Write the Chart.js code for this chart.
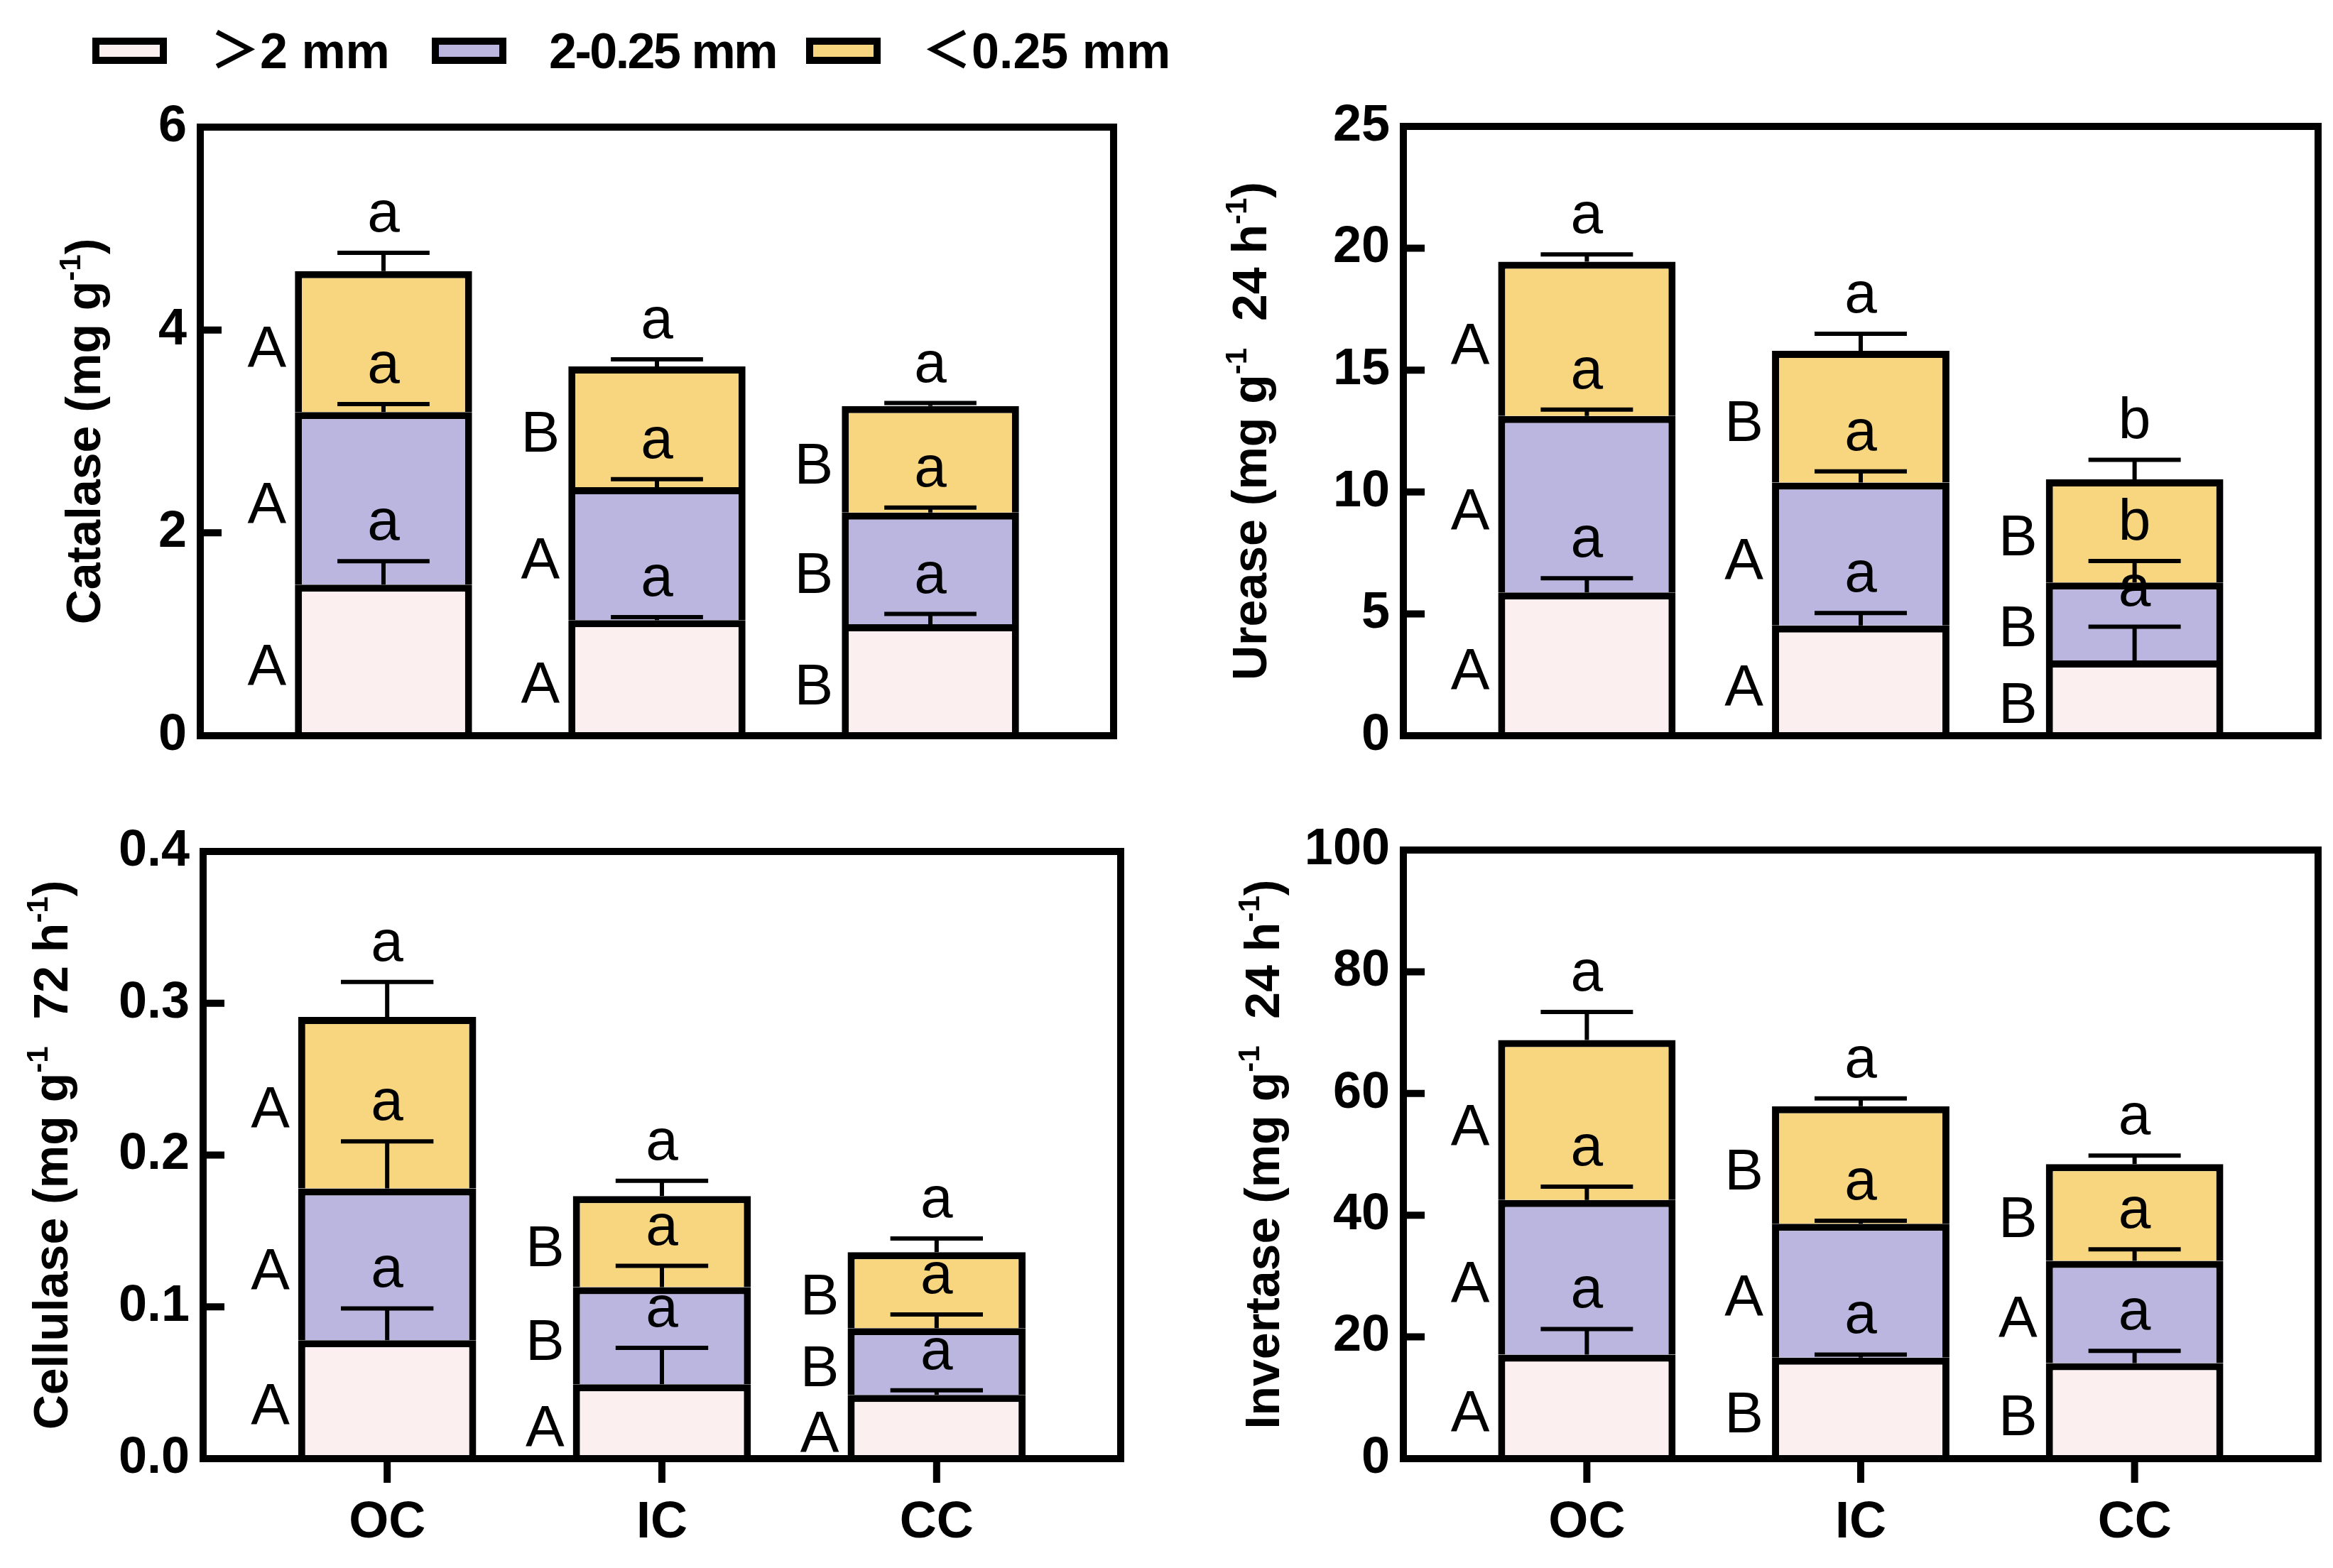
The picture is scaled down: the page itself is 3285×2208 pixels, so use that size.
<!DOCTYPE html>
<html>
<head>
<meta charset="utf-8">
<script src="https://cdn.jsdelivr.net/npm/chart.js@4.4.1/dist/chart.umd.min.js"></script>
<style>
  body { margin: 0; background: #fff; width: 3285px; height: 2208px; position: relative; overflow: hidden;
         font-family: "Liberation Sans", Arial, "Noto Sans CJK SC", sans-serif; }
  canvas { position: absolute; }
  .lg-box { position: absolute; top: 53px; width: 85px; height: 17px; border: 10px solid #000; }
  .lg-text { position: absolute; top: 72px; transform: translateY(-50%); font-weight: bold; font-size: 70px;
             line-height: 1; white-space: nowrap; color: #000; }
</style>
</head>
<body>
<div id="legend"></div>
<canvas id="catalase"></canvas>
<canvas id="urease"></canvas>
<canvas id="cellulase"></canvas>
<canvas id="invertase"></canvas>
<script>
// ---------- data ----------
const categories = ["OC", "IC", "CC"];
const fractions = ["＞2 mm", "2-0.25 mm", "＜0.25 mm"];
const fractionColors = ["#FBF0EF", "#BBB6DF", "#F7D67F"];

// Catalase (mg g-1), one value per category
const catalaseLarge = [1.49, 1.14, 1.10];
const catalaseMid = [1.70, 1.31, 1.10];
const catalaseSmall = [1.39, 1.19, 1.05];
const catalaseErrLarge = [0.23, 0.03, 0.10];
const catalaseErrMid = [0.08, 0.08, 0.05];
const catalaseErrSmall = [0.18, 0.07, 0.03];
const catalaseUpperLarge = ["A", "A", "B"];
const catalaseUpperMid = ["A", "A", "B"];
const catalaseUpperSmall = ["A", "B", "B"];
const catalaseLowerLarge = ["a", "a", "a"];
const catalaseLowerMid = ["a", "a", "a"];
const catalaseLowerSmall = ["a", "a", "a"];
const catalaseTicks = [0, 6, 2];

// Urease (mg g-1 24 h-1)
const ureaseLarge = [5.88, 4.52, 3.09];
const ureaseMid = [7.24, 5.87, 3.20];
const ureaseSmall = [6.33, 5.40, 4.23];
const ureaseErrLarge = [0.58, 0.51, 1.38];
const ureaseErrMid = [0.26, 0.46, 0.88];
const ureaseErrSmall = [0.30, 0.70, 0.80];
const ureaseUpperLarge = ["A", "A", "B"];
const ureaseUpperMid = ["A", "A", "B"];
const ureaseUpperSmall = ["A", "B", "B"];
const ureaseLowerLarge = ["a", "a", "a"];
const ureaseLowerMid = ["a", "a", "b"];
const ureaseLowerSmall = ["a", "a", "b"];
const ureaseTicks = [0, 25, 5];

// Cellulase (mg g-1 72 h-1)
const cellulaseLarge = [0.078, 0.049, 0.042];
const cellulaseMid = [0.100, 0.064, 0.044];
const cellulaseSmall = [0.113, 0.060, 0.050];
const cellulaseErrLarge = [0.021, 0.024, 0.003];
const cellulaseErrMid = [0.031, 0.014, 0.009];
const cellulaseErrSmall = [0.023, 0.010, 0.009];
const cellulaseUpperLarge = ["A", "A", "A"];
const cellulaseUpperMid = ["A", "B", "B"];
const cellulaseUpperSmall = ["A", "B", "B"];
const cellulaseLowerLarge = ["a", "a", "a"];
const cellulaseLowerMid = ["a", "a", "a"];
const cellulaseLowerSmall = ["a", "a", "a"];
const cellulaseTicks = [0, 0.4, 0.1];

// Invertase (mg g-1 24 h-1)
const invertaseLarge = [17.1, 16.6, 15.7];
const invertaseMid = [25.4, 22.0, 16.8];
const invertaseSmall = [26.3, 19.3, 15.9];
const invertaseErrLarge = [4.2, 0.5, 2.0];
const invertaseErrMid = [2.2, 0.5, 1.9];
const invertaseErrSmall = [4.6, 1.3, 1.4];
const invertaseUpperLarge = ["A", "B", "B"];
const invertaseUpperMid = ["A", "A", "A"];
const invertaseUpperSmall = ["A", "B", "B"];
const invertaseLowerLarge = ["a", "a", "a"];
const invertaseLowerMid = ["a", "a", "a"];
const invertaseLowerSmall = ["a", "a", "a"];
const invertaseTicks = [0, 100, 20];

// axis titles: [text, isSuperscript]
const catalaseTitle = [["Catalase (mg g", false], ["-1", true], [")", false]];
const ureaseTitle = [["Urease (mg g", false], ["-1", true], ["  24 h", false], ["-1", true], [")", false]];
const cellulaseTitle = [["Cellulase (mg g", false], ["-1", true], ["  72 h", false], ["-1", true], [")", false]];
const invertaseTitle = [["Invertase (mg g", false], ["-1", true], ["  24 h", false], ["-1", true], [")", false]];

// ---------- legend ----------
const legendBoxX = [130, 608, 1135];
const legendTextX = [296, 773, 1298];
const legendSpacing = ["0px", "-2.5px", "0px"];
const legend = document.getElementById("legend");
fractions.forEach((name, i) => {
  const box = document.createElement("div");
  box.className = "lg-box";
  box.style.left = legendBoxX[i] + "px";
  box.style.background = fractionColors[i];
  legend.appendChild(box);
  const txt = document.createElement("span");
  txt.className = "lg-text";
  txt.style.left = legendTextX[i] + "px";
  txt.style.letterSpacing = legendSpacing[i];
  txt.textContent = name;
  legend.appendChild(txt);
});

// ---------- drawing helpers ----------
const FONT = '"Liberation Sans", Arial, sans-serif';

const decorPlugin = {
  id: "decor",
  afterDatasetsDraw(chart) {
    const cfg = chart.options.plugins.decor;
    const ctx = chart.ctx;
    const ys = chart.scales.y;
    const sets = chart.data.datasets;
    ctx.save();
    sets.forEach((ds, d) => {
      chart.getDatasetMeta(d).data.forEach((bar, i) => {
        let cum = 0;
        for (let k = 0; k <= d; k++) cum += sets[k].data[i].y;
        const seg = ds.data[i].y;
        const yTop = ys.getPixelForValue(cum);
        const yCap = ys.getPixelForValue(cum + cfg.errors[d][i]);
        const half = bar.width * 0.26;

        // error bar (upper only)
        ctx.strokeStyle = "#000";
        ctx.lineWidth = 6;
        ctx.beginPath();
        ctx.moveTo(bar.x, yTop);
        ctx.lineTo(bar.x, yCap);
        ctx.moveTo(bar.x - half, yCap);
        ctx.lineTo(bar.x + half, yCap);
        ctx.stroke();

        // letters
        ctx.fillStyle = "#000";
        ctx.font = "82px " + FONT;
        ctx.textAlign = "center";
        ctx.textBaseline = "alphabetic";
        ctx.fillText(cfg.lower[d][i], bar.x, yCap - 30);
        ctx.textAlign = "right";
        ctx.textBaseline = "middle";
        ctx.fillText(cfg.upper[d][i], bar.x - bar.width / 2 - 12, ys.getPixelForValue(cum - seg / 2) + 12);
      });
    });
    ctx.restore();
  },
  afterDraw(chart) {
    const cfg = chart.options.plugins.decor;
    const ctx = chart.ctx;
    const a = chart.chartArea;
    ctx.save();
    ctx.strokeStyle = "#000";
    ctx.lineWidth = 10;
    ctx.strokeRect(a.left, a.top, a.right - a.left, a.bottom - a.top);

    // inward y ticks, outward x ticks
    const ys = chart.scales.y;
    ctx.beginPath();
    ys.ticks.forEach(t => {
      const y = ys.getPixelForValue(t.value);
      ctx.moveTo(a.left, y);
      ctx.lineTo(a.left + 30, y);
    });
    if (cfg.showX) {
      const xs = chart.scales.x;
      xs.ticks.forEach(t => {
        const x = xs.getPixelForValue(t.value);
        ctx.moveTo(x, a.bottom);
        ctx.lineTo(x, a.bottom + 34);
      });
    }
    ctx.stroke();

    // y title with superscripts
    ctx.translate(a.left - cfg.titleOffset, (a.top + a.bottom) / 2);
    ctx.rotate(-Math.PI / 2);
    const big = "bold 68px " + FONT;
    const small = "bold 42px " + FONT;
    let total = 0;
    cfg.title.forEach(([text, sup]) => {
      ctx.font = sup ? small : big;
      total += ctx.measureText(text).width;
    });
    let x = -total / 2;
    ctx.fillStyle = "#000";
    ctx.textAlign = "left";
    ctx.textBaseline = "alphabetic";
    cfg.title.forEach(([text, sup]) => {
      ctx.font = sup ? small : big;
      ctx.fillText(text, x, sup ? -28 : 0);
      x += ctx.measureText(text).width;
    });
    ctx.restore();
  }
};

const PAD_TOP = 80;

const makePanel = (id, box, values, errors, upper, lower, ticks, title, decimals) => {
  const canvas = document.getElementById(id);
  const padBottom = box.showX ? 150 : 80;
  const w = box.w + 340;
  const h = box.h + PAD_TOP + padBottom;
  canvas.style.left = (box.left - 300) + "px";
  canvas.style.top = (box.top - PAD_TOP) + "px";
  canvas.style.width = w + "px";
  canvas.style.height = h + "px";
  canvas.width = w;
  canvas.height = h;

  new Chart(canvas, {
    type: "bar",
    data: {
      datasets: values.map((vals, d) => ({
        label: fractions[d],
        data: vals.map((v, i) => ({ x: i, y: v })),
        backgroundColor: fractionColors[d],
        borderColor: "#000",
        borderWidth: 10,
        categoryPercentage: 1,
        barPercentage: 0.648
      }))
    },
    options: {
      responsive: false,
      animation: false,
      layout: { padding: { left: 0, right: 40, top: PAD_TOP, bottom: 0 } },
      plugins: {
        legend: { display: false },
        tooltip: { enabled: false },
        decor: { errors, upper, lower, title, showX: box.showX, titleOffset: box.titleOffset }
      },
      scales: {
        x: {
          type: "linear",
          offset: false,
          bounds: "data",
          grace: 0,
          min: -0.67,
          max: 2.67,
          stacked: true,
          grid: { display: false, drawTicks: false, offset: false },
          border: { display: false },
          afterBuildTicks: s => { s.ticks = categories.map((c, i) => ({ value: i })); },
          afterFit: s => { s.height = padBottom; },
          ticks: {
            display: box.showX,
            autoSkip: false,
            maxRotation: 0,
            padding: 48,
            color: "#000",
            font: { family: FONT, size: 72, weight: "bold" },
            callback: v => categories[v]
          }
        },
        y: {
          min: ticks[0],
          max: ticks[1],
          stacked: true,
          grid: { display: false, drawTicks: false },
          border: { display: false },
          afterFit: s => { s.width = 300; },
          ticks: {
            stepSize: ticks[2],
            padding: 19,
            color: "#000",
            font: { family: FONT, size: 72, weight: "bold" },
            callback: v => Number(v).toFixed(decimals)
          }
        }
      }
    },
    plugins: [decorPlugin]
  });
};

makePanel("catalase", { left: 282, top: 179, w: 1286, h: 857, titleOffset: 141, showX: false },
  [catalaseLarge, catalaseMid, catalaseSmall],
  [catalaseErrLarge, catalaseErrMid, catalaseErrSmall],
  [catalaseUpperLarge, catalaseUpperMid, catalaseUpperSmall],
  [catalaseLowerLarge, catalaseLowerMid, catalaseLowerSmall],
  catalaseTicks, catalaseTitle, 0);

makePanel("urease", { left: 1976, top: 178, w: 1288, h: 858, titleOffset: 193, showX: false },
  [ureaseLarge, ureaseMid, ureaseSmall],
  [ureaseErrLarge, ureaseErrMid, ureaseErrSmall],
  [ureaseUpperLarge, ureaseUpperMid, ureaseUpperSmall],
  [ureaseLowerLarge, ureaseLowerMid, ureaseLowerSmall],
  ureaseTicks, ureaseTitle, 0);

makePanel("cellulase", { left: 286, top: 1199, w: 1292, h: 855, titleOffset: 191, showX: true },
  [cellulaseLarge, cellulaseMid, cellulaseSmall],
  [cellulaseErrLarge, cellulaseErrMid, cellulaseErrSmall],
  [cellulaseUpperLarge, cellulaseUpperMid, cellulaseUpperSmall],
  [cellulaseLowerLarge, cellulaseLowerMid, cellulaseLowerSmall],
  cellulaseTicks, cellulaseTitle, 1);

makePanel("invertase", { left: 1976, top: 1197, w: 1288, h: 857, titleOffset: 175, showX: true },
  [invertaseLarge, invertaseMid, invertaseSmall],
  [invertaseErrLarge, invertaseErrMid, invertaseErrSmall],
  [invertaseUpperLarge, invertaseUpperMid, invertaseUpperSmall],
  [invertaseLowerLarge, invertaseLowerMid, invertaseLowerSmall],
  invertaseTicks, invertaseTitle, 0);
</script>
</body>
</html>
